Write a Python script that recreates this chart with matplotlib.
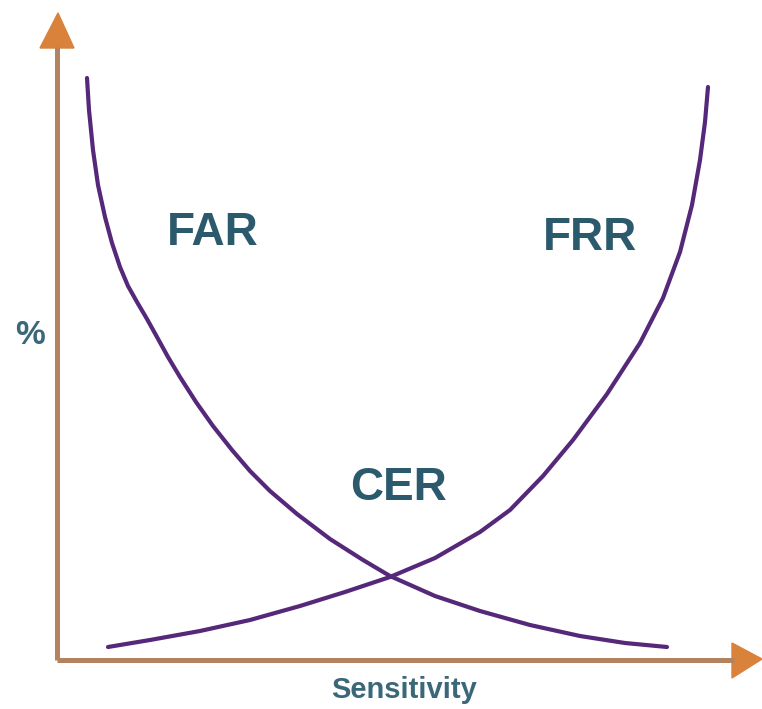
import matplotlib
matplotlib.use('Agg')
import matplotlib.pyplot as plt
from matplotlib.patches import Polygon

# curve values (sensitivity, %), origin at the axes corner
far_x = [30, 32, 36, 41, 48, 55, 63, 71, 80, 90, 100, 111, 123, 139, 156, 175, 193, 213,
         240, 273, 306, 333, 378, 423, 473, 523, 568, 610]
far_y = [582, 550, 510, 475, 443, 417, 393, 374, 358, 341, 323, 303, 283, 258, 234, 210, 189, 169,
         146, 121, 100, 84, 64, 49, 35, 24, 17, 13]

frr_x = [51, 93, 143, 193, 243, 288, 333, 378, 423, 453, 486, 516, 550, 583, 606, 623, 635, 643, 648, 651]
frr_y = [13, 20, 29, 40, 54, 68, 83, 102, 128, 150, 184, 220, 266, 317, 362, 408, 455, 500, 538, 573]

labels = ['FAR', 'FRR', 'CER']
label_x = [156, 533, 341]
label_y = [427, 422, 172]

W, H = 762, 709
ox, oy = 57, 660   # pixel position of the origin

fig = plt.figure(figsize=(W / 100, H / 100), dpi=100)
ax = fig.add_axes([ox / W, (H - oy) / H, (W - ox) / W, oy / H])
ax.set_xlim(0, W - ox)
ax.set_ylim(0, oy)
ax.axis('off')

purple = '#55287a'
axis_col = '#b3835f'
arrow_col = '#d9823b'
text_col = '#2b5a6c'

ax.plot(far_x, far_y, color=purple, lw=3, solid_capstyle='round', solid_joinstyle='round')
ax.plot(frr_x, frr_y, color=purple, lw=3, solid_capstyle='round', solid_joinstyle='round')

# axes lines with arrow heads
ax.plot([0, 0], [0, oy - 47], color=axis_col, lw=3.6, clip_on=False, solid_capstyle='butt')
ax.plot([0, W - ox - 28], [0, 0], color=axis_col, lw=3.6, clip_on=False, solid_capstyle='butt')
ax.add_patch(Polygon([[-17, oy - 48], [17, oy - 48], [1, oy - 13]], closed=True,
                     color=arrow_col, clip_on=False))
ax.add_patch(Polygon([[W - ox - 30, -18], [W - ox - 30, 17], [W - ox, 1]], closed=True,
                     color=arrow_col, clip_on=False))

for t, x, y in zip(labels, label_x, label_y):
    ax.text(x, y, t, fontsize=33, fontweight='bold', family='Liberation Sans',
            color=text_col, ha='center', va='center')

ax.text(404 - ox, oy - 690, 'Sensitivity', fontsize=21, fontweight='bold',
        family='Liberation Sans', color='#3b6878', ha='center', va='center', clip_on=False)
ax.text(30 - ox, oy - 336, '%', fontsize=24, fontweight='bold',
        family='Liberation Sans', color='#3b6878', ha='center', va='center', clip_on=False)

fig.savefig('out.png', dpi=100)
